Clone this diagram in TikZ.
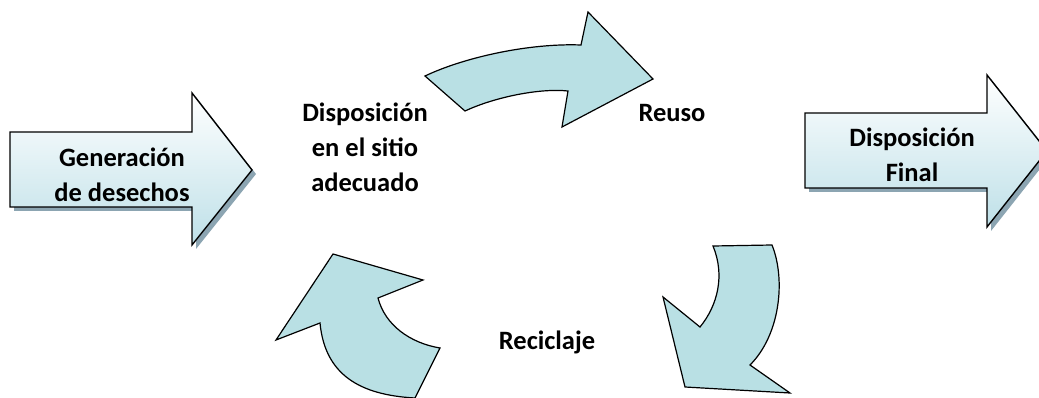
\documentclass[tikz,border=0pt]{standalone}
\usepackage{fontspec}
\setmainfont{Carlito}
\usetikzlibrary{positioning}

\definecolor{arrowfill}{RGB}{185,224,228}
\definecolor{shadowblue}{RGB}{140,165,178}
\definecolor{blocklow}{RGB}{190,224,232}

\begin{document}
\begin{tikzpicture}[x=1pt, y=-1pt,
		caption/.style={align=center, font=\fontsize{26.5}{35}\selectfont\bfseries},
		curved/.style={draw=black, line width=1.2pt, fill=arrowfill, line join=miter},
		block/.style={draw=black, line width=1.4pt, top color=white, bottom color=blocklow},
		blockshadow/.style={fill=shadowblue}]
		\clip (0,0) rectangle (1039,398);

		% Block arrows
		\begin{scope}
			\fill[blockshadow] (14,136) -- (196,136) -- (196,97) -- (256,174) -- (196,249) -- (196,211) -- (14,211) -- cycle;
			\draw[block] (10,132) -- (192,132) -- (192,93) -- (252,170) -- (192,245) -- (192,207) -- (10,207) -- cycle;
			\node (gen) at (122,175) [caption] {Generación\\de desechos};

			\fill[blockshadow] (809,117) -- (991,117) -- (991,79) -- (1051,155) -- (991,231) -- (991,192) -- (809,192) -- cycle;
			\draw[block] (805,113) -- (987,113) -- (987,75) -- (1047,151) -- (987,227) -- (987,188) -- (805,188) -- cycle;
			\node (final) at (912,155) [caption] {Disposición\\Final};
		\end{scope}

		% Cycle
		\begin{scope}
			\node (sitio) at (365,147) [caption] {Disposición\\en el sitio\\adecuado};
			\node (reuso) at (672,113) [caption] {Reuso};
			\node (recic) at (547,342) [caption] {Reciclaje};
		\end{scope}

		% Curved arrows
		\begin{scope}
			\draw[curved] (425,76) .. controls (465,57) and (530,43) .. (581,45) -- (588,12) -- (653,79) -- (562,127) -- (568,91) .. controls (540,88) and (495,97) .. (465,111) -- cycle;
			\draw[curved] (713,246) -- (772,245) .. controls (786,280) and (780,335) .. (750,365) -- (790,393) -- (685,387) -- (663,297) -- (700,327) .. controls (718,305) and (725,275) .. (713,246) -- cycle;
			\draw[curved] (333,254) -- (423,280) -- (378,298) .. controls (385,325) and (410,343) .. (440,348) -- (415,398) .. controls (360,395) and (325,375) .. (320,323) -- (276,340) -- cycle;
		\end{scope}

	\end{tikzpicture}
\end{document}
